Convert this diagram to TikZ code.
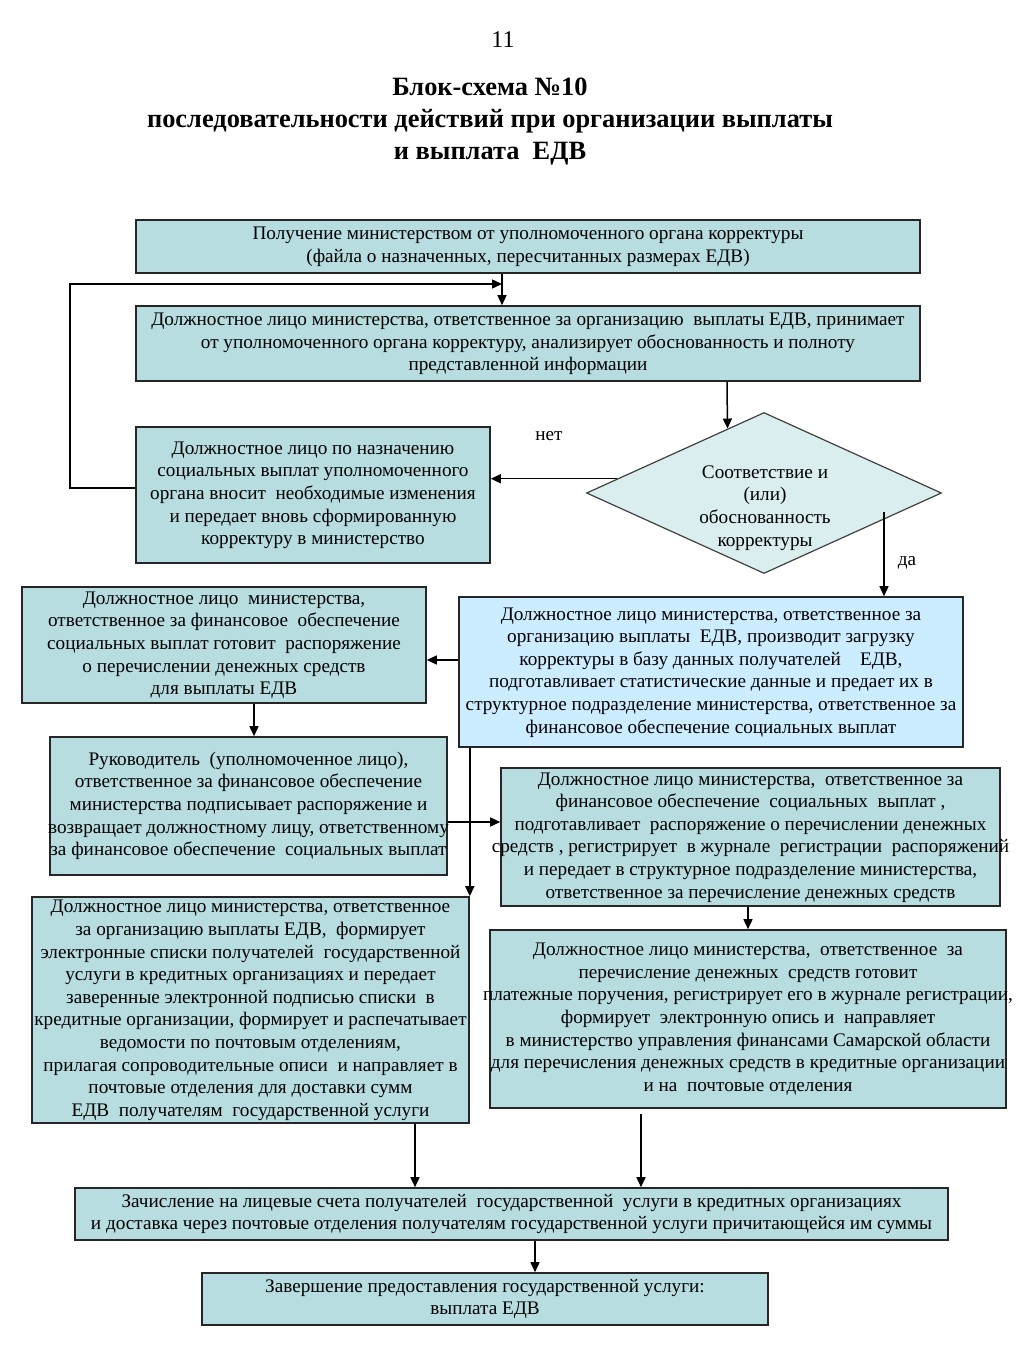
\documentclass[tikz,border=0pt]{standalone}
\usepackage{fontspec}
\setmainfont{Liberation Serif}
\usepackage{tikz}
\usetikzlibrary{arrows.meta}
\usetikzlibrary{shapes.geometric}
\usetikzlibrary{positioning}
\usetikzlibrary{calc}
\definecolor{BoxTeal}{RGB}{183,221,224}
\definecolor{BoxBlue}{RGB}{204,236,255}
\definecolor{CheckFill}{RGB}{218,238,240}
\newcommand{\boxlines}[2]{\makebox[#1]{\begin{tabular}{@{}c@{}}#2\end{tabular}}}

\begin{document}
\begin{tikzpicture}[x=0.5pt, y=-0.5pt,
        box/.style={draw=black!85, line width=0.8pt, fill=#1, inner sep=0pt, font=\fontsize{9.6}{11.3}\selectfont},
        check/.style={draw=black!75, line width=0.6pt, fill=CheckFill, shape=diamond, inner sep=0pt, minimum width=177.5pt, minimum height=80.5pt},
        arr/.style={-{Triangle[length=5pt, width=4.5pt]}, line width=0.75pt, black},
        lbl/.style={font=\fontsize{9.6}{11.3}\selectfont}
    ]
        \path[fill=white] (0,0) rectangle (1024,1365);
        \useasboundingbox (0,0) rectangle (1024,1365);

        \node[font=\fontsize{12}{14}\selectfont] (pagenum) at (503,40) {11};
        \node[align=center, font=\fontsize{13.2}{16}\selectfont\bfseries] (title) at (490,122) {Блок-схема №10\\последовательности действий при организации выплаты\\и выплата \ ЕДВ};

        \node[box=BoxTeal, minimum height=26.5pt] (getfile) at (528,246.5) {\boxlines{392pt}{Получение министерством от уполномоченного органа корректуры\\(файла о назначенных, пересчитанных размерах ЕДВ)}};
        \node[box=BoxTeal, minimum height=37.5pt] (analyze) at (528,343.5) {\boxlines{392pt}{Должностное лицо министерства, ответственное за организацию \ выплаты ЕДВ, принимает\\от уполномоченного органа корректуру, анализирует обоснованность и полноту\\представленной информации}};

        \node[check] (checkbox) at (764,493) {};
        \node[lbl, align=center] (checktext) at (765,508) {Соответствие и\\(или)\\обоснованность\\корректуры};
        \node[box=BoxTeal, minimum height=68pt] (fix) at (313,495) {\boxlines{177pt}{Должностное лицо по назначению\\социальных выплат уполномоченного\\органа вносит \ необходимые изменения\\и передает вновь сформированную\\корректуру в министерство}};
        \node[lbl] (no) at (549,436) {нет};
        \node[lbl] (yes) at (907,563) {да};

        \node[box=BoxTeal, minimum height=58pt] (order) at (224,645) {\boxlines{202pt}{Должностное лицо \ министерства,\\ответственное за финансовое \ обеспечение\\социальных выплат готовит \ распоряжение\\о перечислении денежных средств\\для выплаты ЕДВ}};
        \node[box=BoxBlue, minimum height=75pt] (load) at (711,672) {\boxlines{252pt}{Должностное лицо министерства, ответственное за\\организацию выплаты \ ЕДВ, производит загрузку\\корректуры в базу данных получателей\quad ЕДВ,\\подготавливает статистические данные и предает их в\\структурное подразделение министерства, ответственное за\\финансовое обеспечение социальных выплат}};
        \node[box=BoxTeal, minimum height=69pt] (sign) at (248.5,806) {\boxlines{198.5pt}{Руководитель \ (уполномоченное лицо),\\ответственное за финансовое обеспечение\\министерства подписывает распоряжение и\\возвращает должностному лицу, ответственному\\за финансовое обеспечение \ социальных выплат}};
        \node[box=BoxTeal, minimum height=69pt] (register) at (750.5,837) {\boxlines{249.5pt}{Должностное лицо министерства, \ ответственное за\\финансовое обеспечение \ социальных \ выплат ,\\подготавливает \ распоряжение о перечислении денежных\\средств , регистрирует \ в журнале \ регистрации \ распоряжений\\и передает в структурное подразделение министерства,\\ответственное за перечисление денежных средств}};
        \node[box=BoxTeal, minimum height=113pt] (lists) at (250.5,1010) {\boxlines{218.5pt}{Должностное лицо министерства, ответственное\\за организацию выплаты ЕДВ, \ формирует\\электронные списки получателей \ государственной\\услуги в кредитных организациях и передает\\заверенные электронной подписью списки \ в\\кредитные организации, формирует и распечатывает\\ведомости по почтовым отделениям,\\прилагая сопроводительные описи \ и направляет в\\почтовые отделения для доставки сумм\\ЕДВ \ получателям \ государственной услуги}};
        \node[box=BoxTeal, minimum height=89pt] (payorders) at (748,1019) {\boxlines{258pt}{Должностное лицо министерства, \ ответственное \ за\\перечисление денежных \ средств готовит\\платежные поручения, регистрирует его в журнале регистрации,\\формирует \ электронную опись и \ направляет\\в министерство управления финансами Самарской области\\для перечисления денежных средств в кредитные организации\\и на \ почтовые отделения}};
        \node[box=BoxTeal, minimum height=26pt] (credit) at (511.5,1214) {\boxlines{436.5pt}{Зачисление на лицевые счета получателей \ государственной \ услуги в кредитных организациях\\и доставка через почтовые отделения получателям государственной услуги причитающейся им суммы}};
        \node[box=BoxTeal, minimum height=26pt] (finish) at (485,1299) {\boxlines{283pt}{Завершение предоставления государственной услуги:\\выплата ЕДВ}};

        \coordinate (loop) at (70,284);
        \coordinate (col502) at (502,0);
        \coordinate (col727) at (727,0);
        \coordinate (yesstart) at (884,512);
        \coordinate (col254) at (254,0);
        \coordinate (row822) at (0,822);
        \coordinate (col415) at (415,0);
        \coordinate (col641) at (641,0);
        \coordinate (col535) at (535,0);
        \coordinate (fixloop) at ($(fix.west)+(0,-7)$);
        \coordinate (checkin) at ($(checkbox.west)!0.795!(checkbox.north)$);
        \coordinate (nostart) at ($(checkbox.west)!0.176!(checkbox.north)$);
        \coordinate (loadout) at ($(load.west)+(0,-12)$);
        \coordinate (payout) at ($(payorders.south -| col641)+(0,5)$);

        \draw[arr] (getfile.south -| col502) -- (analyze.north -| col502);
        \draw[arr] (fixloop) -| (loop) -- (loop -| col502);
        \draw[arr] (analyze.south -| col727) -- (checkin);
        \draw[arr] (nostart) -- (nostart -| fix.east);
        \draw[arr] (yesstart) -- (yesstart |- load.north);
        \draw[arr] (loadout) -- (loadout -| order.east);
        \draw[arr] (order.south -| col254) -- (sign.north -| col254);
        \draw[arr] (sign.east |- row822) -- (register.west |- row822);
        \draw[arr] (load.south -| lists.north east) -- (lists.north east);
        \draw[arr] (register.south -| payorders.north) -- (payorders.north);
        \draw[arr] (lists.south -| col415) -- (credit.north -| col415);
        \draw[arr] (payout) -- (credit.north -| col641);
        \draw[arr] (credit.south -| col535) -- (finish.north -| col535);

    \end{tikzpicture}
\end{document}
